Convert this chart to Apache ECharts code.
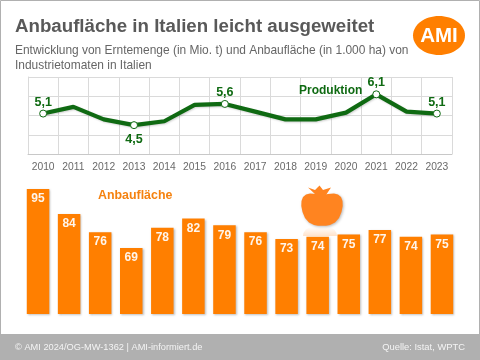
<!DOCTYPE html>
<html><head><meta charset="utf-8">
<style>html,body{margin:0;padding:0;background:#fff}#c{width:480px;height:360px}</style>
<script src="https://cdn.jsdelivr.net/npm/echarts@6/dist/echarts.min.js"></script>
</head><body><div id="c"></div>
<script>
const years = ['2010','2011','2012','2013','2014','2015','2016','2017','2018','2019','2020','2021','2022','2023'];
const production = [5.1,5.45,4.8,4.5,4.7,5.55,5.6,5.2,4.8,4.8,5.15,6.1,5.2,5.1];
const labelledYears = ['2010','2013','2016','2021','2023'];
const area = [95,84,76,69,78,82,79,76,73,74,75,77,74,75];
const title = 'Anbaufläche in Italien leicht ausgeweitet';
const subtitle1 = 'Entwicklung von Erntemenge (in Mio. t) und Anbaufläche (in 1.000 ha) von';
const subtitle2 = 'Industrietomaten in Italien';
const footLeft = '© AMI 2024/OG-MW-1362 | AMI-informiert.de';
const footRight = 'Quelle: Istat, WPTC';
const font = '"Liberation Sans", Arial, sans-serif';
const green = '#0f6a12', orange = '#ff7f00', grey = '#595959';
const chart = echarts.init(document.getElementById('c'), null, {renderer:'canvas'});
const fmt = v => v.toFixed(1).replace('.', ',');
const tomatoBody = [[322,195],[316,194],[310,193.5],[306,194.5],[303,197],[301.5,201],[301.3,206],[302.5,212],[305,218],[309,222.5],[314,225],[318,225.7],[326,225.7],[330,225],[335,222.5],[339,218],[341.5,212],[342.7,206],[342.5,201],[341,197],[338,194.5],[334,193.5],[328,194]];
const tomatoTop = [[308,187.5],[315,190],[319.5,185.5],[323,190],[331,187.5],[326,195],[316,195]];
chart.setOption({
  animation:false,
  backgroundColor:'#fff',
  textStyle:{fontFamily:font},
  grid:[
    {left:28,top:77,width:424,height:77,containLabel:false},
    {left:22.5,top:189,width:435,height:125}
  ],
  xAxis:[
    {type:'category',gridIndex:0,data:years,boundaryGap:true,
     axisLine:{lineStyle:{color:'#c8c8c8',width:1}},axisTick:{show:false},
     axisLabel:{color:'#6a6a6a',fontSize:10.3,margin:8,interval:0,fontFamily:font},
     splitLine:{show:true,interval:0,lineStyle:{color:'#dadada',width:1}}},
    {type:'category',gridIndex:1,data:years,show:false}
  ],
  yAxis:[
    {type:'value',gridIndex:0,min:3,max:7,interval:1,
     axisLine:{show:true,lineStyle:{color:'#dadada'}},axisTick:{show:false},axisLabel:{show:false},
     splitLine:{show:true,lineStyle:{color:'#dadada',width:1}}},
    {type:'value',gridIndex:1,min:40,max:95,show:false,splitLine:{show:false}}
  ],
  series:[
    {type:'line',xAxisIndex:0,yAxisIndex:0,z:5,
     data:production.map((v,i)=>{
       const on = labelledYears.includes(years[i]);
       return {value:v,symbol:on?'circle':'none',symbolSize:7,
         label:{show:on,position:years[i]==='2013'?'bottom':'top',distance:years[i]==='2013'?4:1}};
     }),
     showSymbol:true,
     lineStyle:{color:green,width:4.2,shadowColor:'rgba(0,0,0,.18)',shadowBlur:2,shadowOffsetX:1,shadowOffsetY:1},
     itemStyle:{color:'#fff',borderColor:green,borderWidth:1},
     label:{color:green,fontSize:12.5,fontWeight:'bold',fontFamily:font,formatter:p=>fmt(p.value)}},
    {type:'bar',xAxisIndex:1,yAxisIndex:1,z:4,barWidth:22.5,
     data:area,
     itemStyle:{color:orange,shadowColor:'rgba(0,0,0,.25)',shadowBlur:2,shadowOffsetX:1,shadowOffsetY:1},
     label:{show:true,position:'insideTop',distance:4,color:'#fff',fontSize:12,fontWeight:'bold',fontFamily:font,opacity:.92}}
  ],
  graphic:[
    {type:'rect',z:100,shape:{x:0.5,y:0.5,width:479,height:359},style:{fill:'none',stroke:'#b0b0b0',lineWidth:1}},
    {type:'rect',z:101,shape:{x:0,y:334,width:480,height:26},style:{fill:'#b0b0b0'}},
    {type:'text',z:102,x:15,y:17.5,style:{text:title,font:'bold 18.7px '+font,fill:grey}},
    {type:'text',z:102,x:15,y:45,style:{text:subtitle1,font:'11.95px '+font,fill:'#666'}},
    {type:'text',z:102,x:15,y:60,style:{text:subtitle2,font:'11.95px '+font,fill:'#666'}},
    {type:'ellipse',z:102,shape:{cx:439,cy:35.5,rx:26,ry:19.5},style:{fill:orange}},
    {type:'text',z:103,x:439,y:36,style:{text:'AMI',font:'bold 20.5px '+font,fill:'#fff',align:'center',verticalAlign:'middle'}},
    {type:'text',z:102,x:299,y:85,style:{text:'Produktion',font:'bold 12px '+font,fill:green}},
    {type:'text',z:102,x:98,y:190,style:{text:'Anbaufläche',font:'bold 12.4px '+font,fill:'#f5820f'}},
    {type:'polygon',z:3,shape:{points:tomatoBody},
      style:{fill:'#ff8420',shadowColor:'rgba(0,0,0,.28)',shadowBlur:3,shadowOffsetX:1,shadowOffsetY:1}},
    {type:'polygon',z:3,shape:{points:tomatoTop},style:{fill:'#ff8420'}},
    {type:'rect',z:3,shape:{x:303,y:227,width:34,height:9,r:[12,12,0,0]},
      style:{fill:new echarts.graphic.LinearGradient(0,0,0,1,[{offset:0,color:'rgba(255,160,80,0)'},{offset:1,color:'rgba(255,160,80,.3)'}])}},
    {type:'text',z:102,x:15,y:343,style:{text:footLeft,font:'9.25px '+font,fill:'#f4f4f4'}},
    {type:'text',z:102,x:465,y:343,style:{text:footRight,font:'9.4px '+font,fill:'#f4f4f4',align:'right'}}
  ]
});
</script></body></html>
